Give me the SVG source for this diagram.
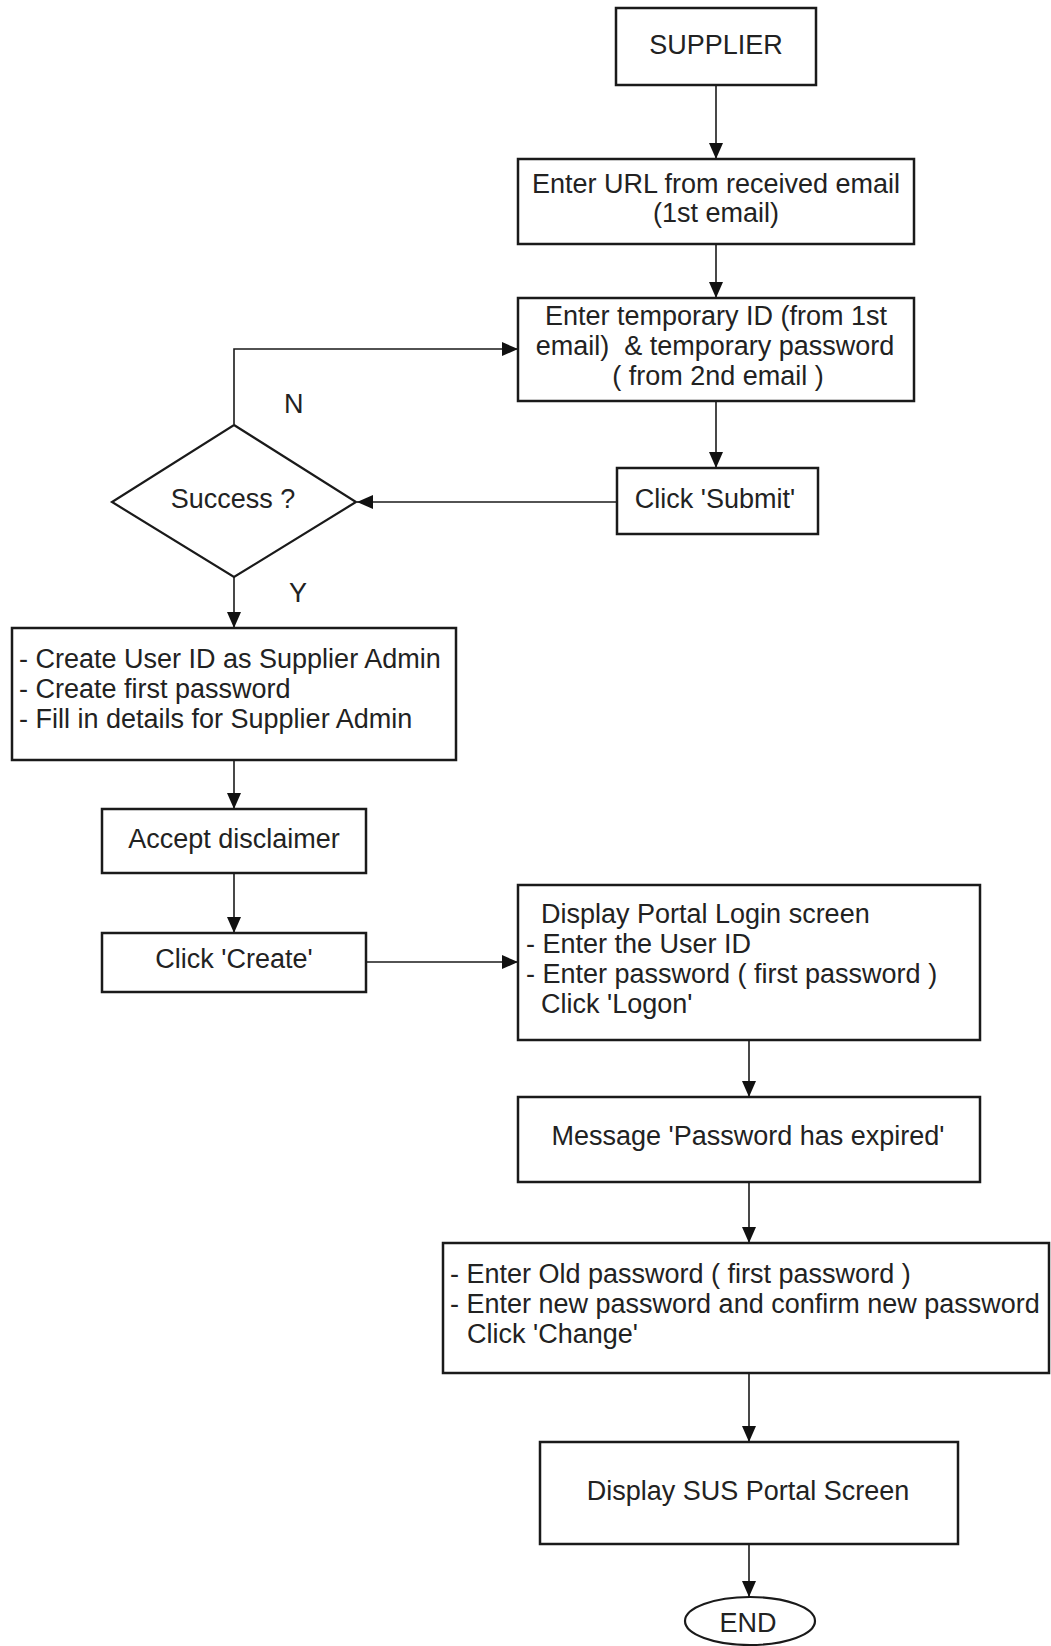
<svg xmlns="http://www.w3.org/2000/svg" width="1051" height="1646" viewBox="0 0 1051 1646">
<style>
.box{fill:#fff;stroke:#1a1a1a;stroke-width:2.5}
.t{font-family:"Liberation Sans",Arial,sans-serif;font-size:27px;fill:#222}
.c{text-anchor:middle}
.con{fill:none;stroke:#1a1a1a;stroke-width:1.6}
</style>
<defs>
<marker id="ah" markerUnits="userSpaceOnUse" markerWidth="18" markerHeight="14" refX="16" refY="7" orient="auto">
<path d="M0,0 L16,7 L0,14 Z" fill="#111"/>
</marker>
</defs>
<rect width="1051" height="1646" fill="#fff"/>
<g id="connectors">
<line class="con" x1="716" y1="85" x2="716" y2="159" marker-end="url(#ah)"/>
<line class="con" x1="716" y1="244" x2="716" y2="298" marker-end="url(#ah)"/>
<line class="con" x1="716" y1="401" x2="716" y2="468" marker-end="url(#ah)"/>
<line class="con" x1="617" y1="502" x2="357" y2="502" marker-end="url(#ah)"/>
<path class="con" d="M234,424 V349 H518" marker-end="url(#ah)"/>
<line class="con" x1="234" y1="577" x2="234" y2="628" marker-end="url(#ah)"/>
<line class="con" x1="234" y1="760" x2="234" y2="809" marker-end="url(#ah)"/>
<line class="con" x1="234" y1="873" x2="234" y2="933" marker-end="url(#ah)"/>
<line class="con" x1="366" y1="962" x2="518" y2="962" marker-end="url(#ah)"/>
<line class="con" x1="749" y1="1040" x2="749" y2="1097" marker-end="url(#ah)"/>
<line class="con" x1="749" y1="1182" x2="749" y2="1243" marker-end="url(#ah)"/>
<line class="con" x1="749" y1="1373" x2="749" y2="1442" marker-end="url(#ah)"/>
<line class="con" x1="749" y1="1544" x2="749" y2="1597" marker-end="url(#ah)"/>
<text class="t" x="284" y="413">N</text>
<text class="t" x="289" y="602">Y</text>
</g>
<g id="supplier">
<rect class="box" x="616" y="8" width="200" height="77"/>
<text class="t c" x="716" y="54">SUPPLIER</text>
</g>
<g id="enter-url">
<rect class="box" x="518" y="159" width="396" height="85"/>
<text class="t c" x="716" y="193">Enter URL from received email</text>
<text class="t c" x="716" y="222">(1st email)</text>
</g>
<g id="enter-temp">
<rect class="box" x="518" y="298" width="396" height="103"/>
<text class="t c" x="716" y="325">Enter temporary ID (from 1st</text>
<text class="t c" x="715" y="355" xml:space="preserve">email)  &amp; temporary password</text>
<text class="t c" x="718" y="385">( from 2nd email )</text>
</g>
<g id="submit">
<rect class="box" x="617" y="468" width="201" height="66"/>
<text class="t c" x="715" y="508">Click 'Submit'</text>
</g>
<g id="success">
<polygon points="234,425 356,502 234,577 112,502" fill="#fff" stroke="#1a1a1a" stroke-width="2.2"/>
<text class="t c" x="233" y="508">Success ?</text>
</g>
<g id="create-user">
<rect class="box" x="12" y="628" width="444" height="132"/>
<text class="t" x="19" y="668">- Create User ID as Supplier Admin</text>
<text class="t" x="19" y="698">- Create first password</text>
<text class="t" x="19" y="728">- Fill in details for Supplier Admin</text>
</g>
<g id="accept">
<rect class="box" x="102" y="809" width="264" height="64"/>
<text class="t c" x="234" y="848">Accept disclaimer</text>
</g>
<g id="click-create">
<rect class="box" x="102" y="933" width="264" height="59"/>
<text class="t c" x="234" y="968">Click 'Create'</text>
</g>
<g id="portal-login">
<rect class="box" x="518" y="885" width="462" height="155"/>
<text class="t" x="541" y="923">Display Portal Login screen</text>
<text class="t" x="526" y="953">- Enter the User ID</text>
<text class="t" x="526" y="983">- Enter password ( first password )</text>
<text class="t" x="541" y="1013">Click 'Logon'</text>
</g>
<g id="expired">
<rect class="box" x="518" y="1097" width="462" height="85"/>
<text class="t c" x="748" y="1145">Message 'Password has expired'</text>
</g>
<g id="change-password">
<rect class="box" x="443" y="1243" width="606" height="130"/>
<text class="t" x="450" y="1283">- Enter Old password ( first password )</text>
<text class="t" x="450" y="1313">- Enter new password and confirm new password</text>
<text class="t" x="467" y="1343">Click 'Change'</text>
</g>
<g id="sus-portal">
<rect class="box" x="540" y="1442" width="418" height="102"/>
<text class="t c" x="748" y="1500">Display SUS Portal Screen</text>
</g>
<g id="end">
<ellipse cx="750" cy="1621" rx="65" ry="24" fill="#fff" stroke="#1a1a1a" stroke-width="2.2"/>
<text class="t c" x="748" y="1632">END</text>
</g>
</svg>
